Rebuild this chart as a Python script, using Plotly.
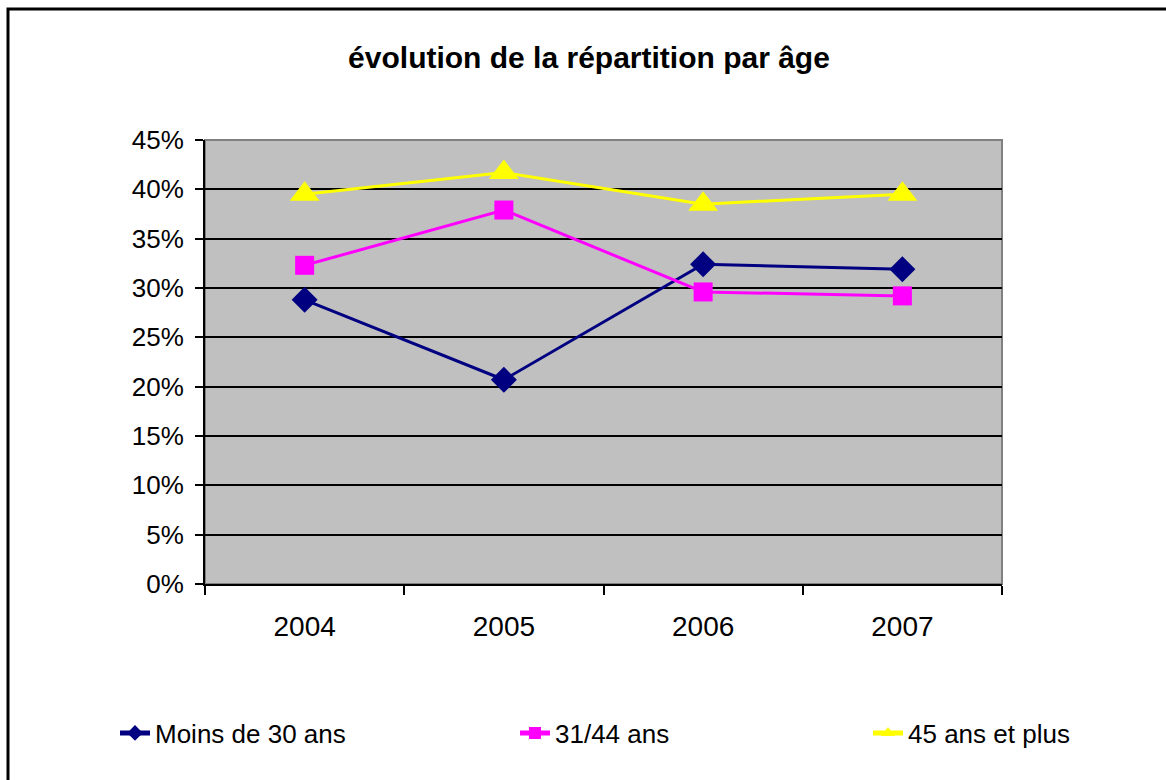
import plotly.graph_objects as go

# data
years = ["2004", "2005", "2006", "2007"]
moins_30 = [0.288, 0.207, 0.324, 0.319]
de_31_44 = [0.323, 0.379, 0.296, 0.292]
plus_45 = [0.395, 0.417, 0.385, 0.395]

series_names = ["Moins de 30 ans", "31/44 ans", "45 ans et plus"]
y_ticks = [0, 0.05, 0.10, 0.15, 0.20, 0.25, 0.30, 0.35, 0.40, 0.45]

font = "Liberation Sans, Arial, sans-serif"

fig = go.Figure()

fig.add_trace(go.Scatter(
    x=years, y=moins_30, name=series_names[0], mode="lines+markers",
    line=dict(color="#000080", width=3),
    marker=dict(symbol="diamond", size=20, color="#000080"),
    legend="legend",
))
fig.add_trace(go.Scatter(
    x=years, y=de_31_44, name=series_names[1], mode="lines+markers",
    line=dict(color="#FF00FF", width=3),
    marker=dict(symbol="square", size=19, color="#FF00FF"),
    legend="legend2",
))
fig.add_trace(go.Scatter(
    x=years, y=plus_45, name=series_names[2], mode="lines+markers",
    line=dict(color="#FFFF00", width=3),
    marker=dict(symbol="triangle-up", size=26, color="#FFFF00"),
    legend="legend3",
))

W, H = 1166, 780
L, R, T, B = 205, 164, 140, 196
pw, ph = W - L - R, H - T - B


def px(x):
    return (x - L) / pw


def py(y):
    return (H - B - y) / ph


legend_style = dict(orientation="h", yanchor="middle", xanchor="left",
                    font=dict(family=font, size=26, color="black"),
                    bgcolor="rgba(0,0,0,0)", itemsizing="constant")

fig.update_layout(
    width=W, height=H,
    margin=dict(l=L, r=R, t=T, b=B),
    paper_bgcolor="white",
    plot_bgcolor="#C0C0C0",
    title=dict(text="<b>évolution de la répartition par âge</b>",
               x=589 / W, xref="container", xanchor="center",
               y=1 - 57 / H, yref="container", yanchor="middle",
               font=dict(family=font, size=30, color="black")),
    legend=dict(x=px(115), y=py(733), **legend_style),
    legend2=dict(x=px(515), y=py(733), **legend_style),
    legend3=dict(x=px(868), y=py(733), **legend_style),
    xaxis=dict(
        type="category", range=[-0.5, 3.5],
        showline=True, linecolor="black", linewidth=2,
        ticks="outside", tickson="boundaries", ticklen=9, tickwidth=2, tickcolor="black",
        showgrid=False,
        tickfont=dict(family=font, size=28, color="black"),
        ticklabelstandoff=16,
    ),
    yaxis=dict(
        range=[0, 0.45], tickvals=y_ticks, tickformat=".0%",
        showline=True, linecolor="black", linewidth=2,
        ticks="outside", ticklen=8, tickwidth=2, tickcolor="black",
        showgrid=True, gridcolor="black", gridwidth=1.5,
        zeroline=False,
        tickfont=dict(family=font, size=26, color="black"),
        ticklabelstandoff=6,
    ),
    showlegend=True,
    shapes=[
        # plot area border (grey, top and right)
        dict(type="rect", xref="paper", yref="paper", x0=0, x1=1, y0=0, y1=1,
             line=dict(color="#808080", width=2), layer="below"),
        # chart outer border
        dict(type="rect", xref="paper", yref="paper",
             x0=px(8), x1=px(1180), y0=py(795), y1=py(9),
             line=dict(color="black", width=3)),
    ],
)

# page body has a default margin; remove it so the chart sits at the corner
fig.write_html("out.html", config={"displayModeBar": False},
               post_script="document.body.style.margin='0';")
